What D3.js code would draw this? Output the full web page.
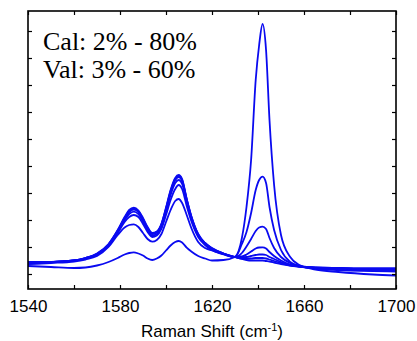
<!DOCTYPE html>
<html lang="en">
<head>
    <meta charset="UTF-8">
    <title>Raman spectra</title>
    <script src="https://d3js.org/d3.v7.min.js"></script>
    <style>
        body {
            margin: 0;
            background-color: white;
        }
        svg {
            display: block;
            background: white;
        }
    </style>
</head>
<body>
    <svg width="417" height="341"></svg>

    <script>
        // Raman shift (cm-1) sampled for every spectrum
        const shifts = [1540, 1550, 1560, 1565, 1570, 1575, 1579, 1582, 1584, 1586, 1588, 1590, 1592, 1594, 1596,
            1598, 1600, 1602, 1604, 1605.5, 1607, 1609, 1611, 1614, 1617, 1620, 1625, 1630, 1633, 1635, 1637,
            1639, 1640.5, 1642, 1643.5, 1645, 1647, 1650, 1654, 1658, 1665, 1675, 1690, 1700];

        // intensities (a.u.), one array per spectrum
        const specA = [8, 7, 6, 6.5, 8.5, 12, 16, 19.5, 21, 21.7, 20.5, 18.5, 15.5, 14, 15.5,
            18.5, 23.5, 28.5, 32, 33, 31.5, 26.3, 22.5, 18, 15.5, 13.5, 14, 17, 36, 67, 114,
            194, 229, 250, 224, 154, 89, 39, 17, 9, 4.5, 2, -0.5, -1.5];
        const specB = [10, 11, 12.5, 14.5, 18, 27, 39, 46.5, 49, 49.7, 47, 41, 35, 32.3, 34,
            40, 52, 64, 73, 75, 71, 59, 46, 32, 26, 23.5, 19.5, 17, 30, 42, 61,
            84, 94, 97.3, 91, 67, 44, 24, 12, 8, 5.5, 4, 3, 2.5];
        const specC = [10.5, 11.5, 13, 15.5, 19.5, 28, 41, 52, 57, 59, 57, 50, 42, 37, 38.5,
            45, 59, 74, 85, 89, 85, 68, 53, 37, 29, 24, 20, 17, 21, 27.5, 35,
            43, 46.5, 47.3, 45, 36, 26, 17, 11, 8, 6, 4.5, 3.5, 3];
        const specD = [11, 12, 13.5, 15.5, 19.5, 29, 42, 54, 60, 62.3, 60, 52.5, 44, 38.5, 40,
            47.5, 62, 79, 91, 94, 90, 72, 55, 38, 29.5, 24.5, 20, 17, 17.5, 19.5, 22.5,
            25.5, 26.5, 26.7, 25.5, 22, 18, 13.5, 9.5, 7.5, 6, 5.5, 5, 5];
        const specE = [11, 12, 13.5, 16, 20, 29.5, 43, 55.5, 62, 64.5, 62, 54.5, 45.5, 40, 41.5,
            49, 64.5, 82, 94, 97, 93, 74, 57, 39, 30.5, 25.5, 20.5, 17, 16.5, 17, 18,
            19, 19.5, 19.5, 19, 17, 15, 12, 9, 7.5, 6, 5.5, 5, 5];
        const specF = [11.5, 12, 13.5, 16, 20, 29.5, 43.5, 56, 63, 65.5, 63, 55, 46, 40.5, 42,
            50, 65.5, 83, 95, 98, 94, 75, 57.5, 39.5, 31, 25.5, 20.5, 17, 15.5, 15.5, 15.5,
            16, 16, 16, 15.5, 14.5, 13, 11, 8.5, 7.5, 6.5, 6, 5.5, 5.5];
        const specG = [12, 12, 13.5, 16, 20.5, 30, 44, 57, 64, 66.3, 63.5, 56, 47, 41, 42.5,
            50, 66.5, 84, 96, 99, 95, 75, 58, 40, 31, 26, 20.5, 17, 15, 14, 13.5,
            13.5, 13.5, 13.5, 13, 12.5, 11.5, 10, 8.5, 7.5, 6.5, 6, 5.5, 5.5];

        const spectra = [specA, specB, specC, specD, specE, specF, specG];

        const xTicks = [1540, 1560, 1580, 1600, 1620, 1640, 1660, 1680, 1700];
        const xLabels = [1540, 1580, 1620, 1660, 1700];
        const yTicks = [0, 27, 54, 81, 108, 135, 162, 189, 216, 243];

        const notes = ["Cal: 2% - 80%", "Val: 3% - 60%"];

        const svg = d3.select("svg"),
            plot = {left: 28, right: 396, top: 11, bottom: 289};

        const x = d3.scaleLinear()
            .domain([1540, 1700])
            .range([plot.left, plot.right]);

        const y = d3.scaleLinear()
            .domain([-15, 263])
            .range([plot.bottom, plot.top]);

        const line = d3.line()
            .x((d, i) => x(shifts[i]))
            .y(d => y(d))
            .curve(d3.curveMonotoneX);

        svg.append("clipPath").attr("id", "clip")
            .append("rect")
            .attr("x", plot.left).attr("y", plot.top)
            .attr("width", plot.right - plot.left)
            .attr("height", plot.bottom - plot.top);

        svg.append("g")
            .attr("clip-path", "url(#clip)")
            .selectAll("path")
            .data(spectra)
            .join("path")
            .attr("fill", "none")
            .attr("stroke", "#0a0af0")
            .attr("stroke-width", 1.8)
            .attr("stroke-linejoin", "round")
            .attr("d", line);

        // axes with inward ticks on all four sides
        const tickStyle = g => {
            g.select(".domain").remove();
            g.selectAll(".tick line").attr("stroke", "black").attr("stroke-width", 1.2);
        };

        svg.append("g")
            .attr("transform", `translate(0,${plot.bottom})`)
            .call(d3.axisBottom(x).tickValues(xTicks).tickSizeInner(-4).tickSizeOuter(0)
                .tickFormat(d => xLabels.includes(d) ? d : ""))
            .call(tickStyle)
            .call(g => g.selectAll(".tick text")
                .attr("fill", "black")
                .attr("y", 23)
                .attr("dy", 0)
                .style("font-family", "'Liberation Sans', Arial, sans-serif")
                .style("font-size", "17px"));

        svg.append("g")
            .attr("transform", `translate(0,${plot.top})`)
            .call(d3.axisTop(x).tickValues(xTicks).tickSizeInner(-4).tickSizeOuter(0).tickFormat(""))
            .call(tickStyle);

        svg.append("g")
            .attr("transform", `translate(${plot.left},0)`)
            .call(d3.axisLeft(y).tickValues(yTicks).tickSizeInner(-4).tickSizeOuter(0).tickFormat(""))
            .call(tickStyle);

        svg.append("g")
            .attr("transform", `translate(${plot.right},0)`)
            .call(d3.axisRight(y).tickValues(yTicks).tickSizeInner(-4).tickSizeOuter(0).tickFormat(""))
            .call(tickStyle);

        svg.append("rect")
            .attr("x", plot.left)
            .attr("y", plot.top)
            .attr("width", plot.right - plot.left)
            .attr("height", plot.bottom - plot.top)
            .attr("fill", "none")
            .attr("stroke", "black")
            .attr("stroke-width", 1.6);

        const title = svg.append("text")
            .attr("x", (plot.left + plot.right) / 2)
            .attr("y", 337)
            .attr("text-anchor", "middle")
            .attr("fill", "black")
            .style("font-family", "'Liberation Sans', Arial, sans-serif")
            .style("font-size", "17px");
        title.append("tspan").text("Raman Shift (cm");
        title.append("tspan").attr("dy", -6).style("font-size", "11px").text("-1");
        title.append("tspan").attr("dy", 6).text(")");

        svg.selectAll(".note")
            .data(notes)
            .join("text")
            .attr("class", "note")
            .attr("x", 43)
            .attr("y", (d, i) => 50 + i * 28)
            .attr("fill", "black")
            .style("font-family", "'Liberation Serif', 'Times New Roman', serif")
            .style("font-size", "26px")
            .text(d => d);
    </script>
</body>
</html>
